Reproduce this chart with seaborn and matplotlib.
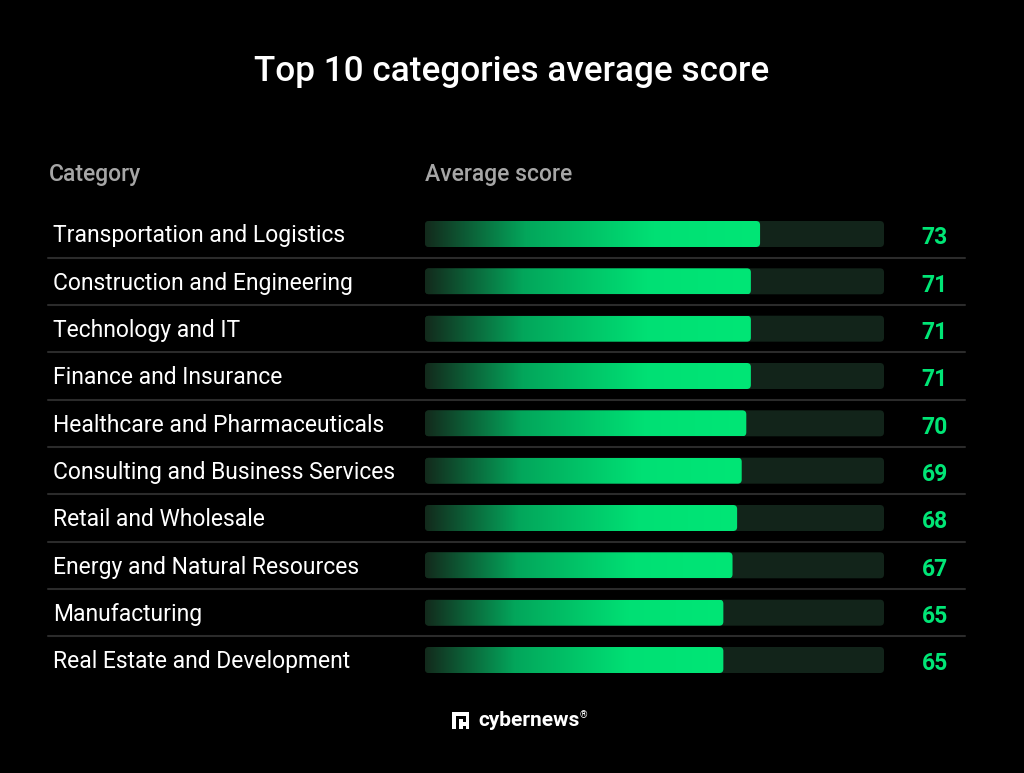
import numpy as np
import pandas as pd
import matplotlib.pyplot as plt
import seaborn as sns
from matplotlib.patches import FancyBboxPatch, Rectangle
from matplotlib.colors import LinearSegmentedColormap
import matplotlib.transforms as mtransforms

categories = [
    "Transportation and Logistics",
    "Construction and Engineering",
    "Technology and IT",
    "Finance and Insurance",
    "Healthcare and Pharmaceuticals",
    "Consulting and Business Services",
    "Retail and Wholesale",
    "Energy and Natural Resources",
    "Manufacturing",
    "Real Estate and Development",
]
scores = [73, 71, 71, 71, 70, 69, 68, 67, 65, 65]
max_score = 100

df = pd.DataFrame({"category": categories, "score": scores, "track": max_score})

sns.set_theme(style="dark")
plt.rcParams['font.family'] = ['Roboto', 'DejaVu Sans']

BG = "#000000"
GREEN = "#00e676"
TRACK = "#12241a"

W, H = 1024, 773
fig = plt.figure(figsize=(W / 100, H / 100), dpi=100, facecolor=BG)

# axes over the bar area (px 425..884 wide, rows centred 234..660)
row_gap = (660 - 234) / 9
top = 234 - row_gap / 2
bottom = 660 + row_gap / 2
ax = fig.add_axes([425 / W, 1 - bottom / H, (884 - 425) / W, (bottom - top) / H])
ax.set_facecolor(BG)

bar_h = 26 / row_gap
sns.barplot(data=df, x="track", y="category", color=TRACK, width=bar_h,
            orient="h", ax=ax, saturation=1)
n_track = len(ax.patches)
sns.barplot(data=df, x="score", y="category", color=GREEN, width=bar_h,
            orient="h", ax=ax, saturation=1)

ax.axis("off")

cmap = LinearSegmentedColormap.from_list(
    "bar", [(0, "#132a1c"), (0.3, "#03a65b"), (0.68, "#00e074"), (1, GREEN)])

px_x = (884 - 425) / max_score
r = 4 / px_x
aspect = (4 / row_gap) / r

for i, p in enumerate(ax.patches):
    x0, y0 = p.get_x(), p.get_y()
    w, h = p.get_width(), p.get_height()
    rounded = FancyBboxPatch((x0, y0), w, h,
                             boxstyle=f"round,pad=0,rounding_size={r}",
                             mutation_aspect=aspect, linewidth=0,
                             facecolor=TRACK if i < n_track else "none",
                             zorder=2 if i < n_track else 3)
    ax.add_patch(rounded)
    p.set_visible(False)
    if i >= n_track:
        grad = np.linspace(0, 1, 256).reshape(1, -1)
        im = ax.imshow(grad, cmap=cmap, aspect="auto",
                       extent=(x0, x0 + w, y0 + h, y0), zorder=4,
                       interpolation="bicubic")
        im.set_clip_path(rounded)

ax.set_xlim(0, max_score)
ax.set_ylim(len(categories) - 0.5, -0.5)

blend = mtransforms.blended_transform_factory(ax.transAxes, ax.transData)
x_lab = (53 - 425) / (884 - 425)
x_val = (935 - 425) / (884 - 425)
x_sep0 = (48 - 425) / (884 - 425)
x_sep1 = (965 - 425) / (884 - 425)

for i, (cat, sc) in enumerate(zip(categories, scores)):
    ax.text(x_lab, i + 0.04, cat, transform=blend, color="white", fontsize=16.5,
            va="center", ha="left", clip_on=False)
    ax.text(x_val, i + 0.08, str(sc), transform=blend, color=GREEN,
            fontsize=16.5, fontweight="bold", va="center", ha="center",
            clip_on=False)
    if i < len(categories) - 1:
        ax.plot([x_sep0, x_sep1], [i + 0.5, i + 0.5], transform=blend,
                color="#2b2b2b", lw=1.5, clip_on=False, zorder=1)

fig.text(512 / W, 1 - 71 / H, "Top 10 categories average score", color="white",
         fontsize=25.3, fontweight="medium", ha="center", va="center")
fig.text(49 / W, 1 - 175 / H, "Category", color="#a6a6a6", fontsize=16.5,
         fontweight="medium", ha="left", va="center")
fig.text(425 / W, 1 - 175 / H, "Average score", color="#a6a6a6", fontsize=16.5,
         fontweight="medium", ha="left", va="center")

# logo
def px_rect(x0, y0, x1, y1, color):
    fig.patches.append(Rectangle((x0 / W, 1 - y1 / H), (x1 - x0) / W, (y1 - y0) / H,
                                 transform=fig.transFigure, facecolor=color,
                                 edgecolor="none"))

px_rect(452, 712, 469, 729, "white")
px_rect(455.5, 715.5, 466, 729, BG)
px_rect(459, 719, 462.5, 729, "white")
px_rect(462.5, 722, 466, 725.5, "white")
fig.text(478 / W, 1 - 721 / H, "cybernews", color="white", fontsize=15,
         fontweight="bold", ha="left", va="center")
fig.text(583 / W, 1 - 715 / H, "®", color="white", fontsize=7,
         ha="center", va="center")

fig.savefig("out.png", dpi=100, facecolor=BG)
